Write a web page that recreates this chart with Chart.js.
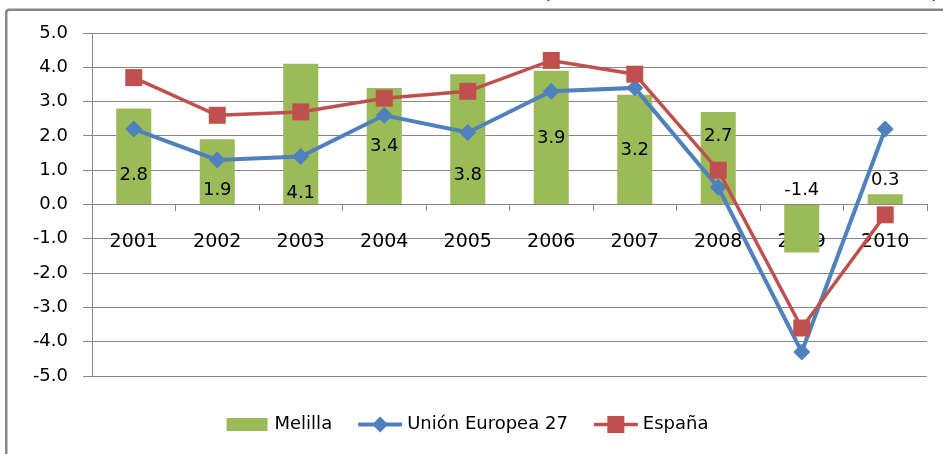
<!DOCTYPE html>
<html><head><meta charset="utf-8">
<script src="https://cdn.jsdelivr.net/npm/chart.js@4.4.1/dist/chart.umd.min.js"></script>
<style>html,body{margin:0;padding:0;background:#fff;overflow:hidden}#wrap{width:943px;height:454px;position:relative}canvas{display:block}</style>
</head><body><div id="wrap"><canvas id="c" width="943" height="454"></canvas></div>
<script>
// ---- data ----
const categories = ['2001','2002','2003','2004','2005','2006','2007','2008','2009','2010'];
const melilla = [2.8, 1.9, 4.1, 3.4, 3.8, 3.9, 3.2, 2.7, -1.4, 0.3];
const ue27 = [2.2, 1.3, 1.4, 2.6, 2.1, 3.3, 3.4, 0.5, -4.3, 2.2];
const espana = [3.7, 2.6, 2.7, 3.1, 3.3, 4.2, 3.8, 1.0, -3.6, -0.3];
// value (in axis units) where each Melilla label sits in the original
const melillaLabelAt = [0.84, 0.41, 0.32, 1.69, 0.84, 1.92, 1.57, 1.98, 0.41, 0.70];
const seriesNames = ['Melilla', 'Unión Europea 27', 'España'];
const yMin = -5, yMax = 5, yStep = 1;

const GREEN = '#9BBB59', BLUE = '#4F81BD', RED = '#C0504D', GRID = '#878787';
const FONT = 'DejaVu Sans';

const framePlugin = {
  id: 'frame',
  beforeDraw(chart) {
    const ctx = chart.ctx;
    ctx.save();
    ctx.fillStyle = '#fff';
    ctx.fillRect(0, 0, chart.width, chart.height);
    ctx.fillStyle = GRID;
    // left edge and top edge of the outer frame only
    ctx.fillRect(5, 12, 2.5, chart.height - 12);
    ctx.fillRect(9, 8.5, chart.width - 9, 2.5);
    ctx.beginPath();
    ctx.strokeStyle = GRID;
    ctx.lineWidth = 2.5;
    ctx.moveTo(6.25, 12.5);
    ctx.quadraticCurveTo(6.25, 9.75, 9.5, 9.75);
    ctx.stroke();
    // cut-off title fragments above frame
    ctx.fillStyle = '#C00000';
    ctx.font = '22px ' + FONT;
    ctx.textAlign = 'center';
    ctx.textBaseline = 'alphabetic';
    ctx.fillText('(', 547, -2);
    ctx.fillText(')', 935, -2);
    ctx.restore();
  }
};

const labelPlugin = {
  id: 'barLabels',
  afterDatasetsDraw(chart) {
    const ctx = chart.ctx;
    const meta = chart.getDatasetMeta(0);
    const y = chart.scales.y;
    ctx.save();
    ctx.fillStyle = '#000';
    ctx.font = '18px ' + FONT;
    ctx.textAlign = 'center';
    ctx.textBaseline = 'middle';
    meta.data.forEach((bar, i) => {
      ctx.fillText(melilla[i].toFixed(1), bar.x, y.getPixelForValue(melillaLabelAt[i]));
    });
    ctx.restore();
  }
};

const legendPlugin = {
  id: 'customLegend',
  afterDraw(chart) {
    const ctx = chart.ctx;
    ctx.save();
    ctx.font = '18px ' + FONT;
    ctx.textBaseline = 'middle';
    ctx.textAlign = 'left';
    const sw = 44, gapT = 5, gapI = 26;
    const widths = seriesNames.map(n => ctx.measureText(n).width);
    const total = widths.reduce((a, w) => a + sw + gapT + w, 0) + gapI * 2;
    let x = 467 - total / 2;
    const cy = 424.5;
    seriesNames.forEach((n, i) => {
      if (i === 0) {
        ctx.fillStyle = GREEN;
        ctx.fillRect(x + 1, cy - 6.5, sw - 3, 13);
      } else if (i === 1) {
        ctx.strokeStyle = BLUE; ctx.lineWidth = 4;
        ctx.beginPath(); ctx.moveTo(x, cy); ctx.lineTo(x + sw, cy); ctx.stroke();
        ctx.fillStyle = BLUE;
        const r = 8, mx = x + sw / 2;
        ctx.beginPath(); ctx.moveTo(mx - r, cy); ctx.lineTo(mx, cy - r); ctx.lineTo(mx + r, cy); ctx.lineTo(mx, cy + r); ctx.closePath(); ctx.fill();
      } else {
        ctx.strokeStyle = RED; ctx.lineWidth = 3.5;
        ctx.beginPath(); ctx.moveTo(x, cy); ctx.lineTo(x + sw, cy); ctx.stroke();
        ctx.fillStyle = RED;
        const s = 8.5, mx = x + sw / 2;
        ctx.fillRect(mx - s, cy - s, 2 * s, 2 * s);
      }
      ctx.fillStyle = '#000';
      ctx.fillText(n, x + sw + gapT, cy);
      x += sw + gapT + widths[i] + gapI;
    });
    ctx.restore();
  }
};

new Chart(document.getElementById('c'), {
  data: {
    labels: categories,
    datasets: [
      { type: 'bar', label: seriesNames[0], data: melilla, backgroundColor: GREEN, borderWidth: 0,
        barPercentage: 0.42, categoryPercentage: 1, order: 2 },
      { type: 'line', label: seriesNames[1], data: ue27, borderColor: BLUE, backgroundColor: BLUE,
        borderWidth: 4, tension: 0, pointStyle: 'rectRot', pointRadius: 8, pointBorderWidth: 1,
        pointBackgroundColor: BLUE, pointBorderColor: BLUE, order: 1 },
      { type: 'line', label: seriesNames[2], data: espana, borderColor: RED, backgroundColor: RED,
        borderWidth: 3.5, tension: 0, pointStyle: 'rect', pointRadius: 12, pointBorderWidth: 0,
        pointBackgroundColor: RED, pointBorderColor: RED, order: 0 }
    ]
  },
  options: {
    responsive: false,
    animation: false,
    devicePixelRatio: 1,
    events: [],
    layout: { padding: { left: 0, top: 33, right: 16, bottom: 78 } },
    plugins: { legend: { display: false }, tooltip: { enabled: false }, title: { display: false } },
    scales: {
      x: {
        type: 'category',
        offset: true,
        position: { y: 0 },
        grid: { display: true, drawOnChartArea: false, drawTicks: true, tickLength: 6, color: GRID, offset: true },
        border: { display: true, color: GRID, width: 1 },
        ticks: { font: { family: FONT, size: 19 }, color: '#000', padding: 20, maxRotation: 0, autoSkip: false }
      },
      y: {
        min: yMin, max: yMax,
        ticks: { stepSize: yStep, callback: v => Number(v).toFixed(1), font: { family: FONT, size: 18 }, color: '#000', padding: 15 },
        grid: { color: GRID, tickLength: 9, drawTicks: true },
        border: { display: true, color: GRID, width: 1 },
        afterFit: s => { s.width = 92; }
      }
    }
  },
  plugins: [framePlugin, labelPlugin, legendPlugin]
});
</script>
</body></html>
